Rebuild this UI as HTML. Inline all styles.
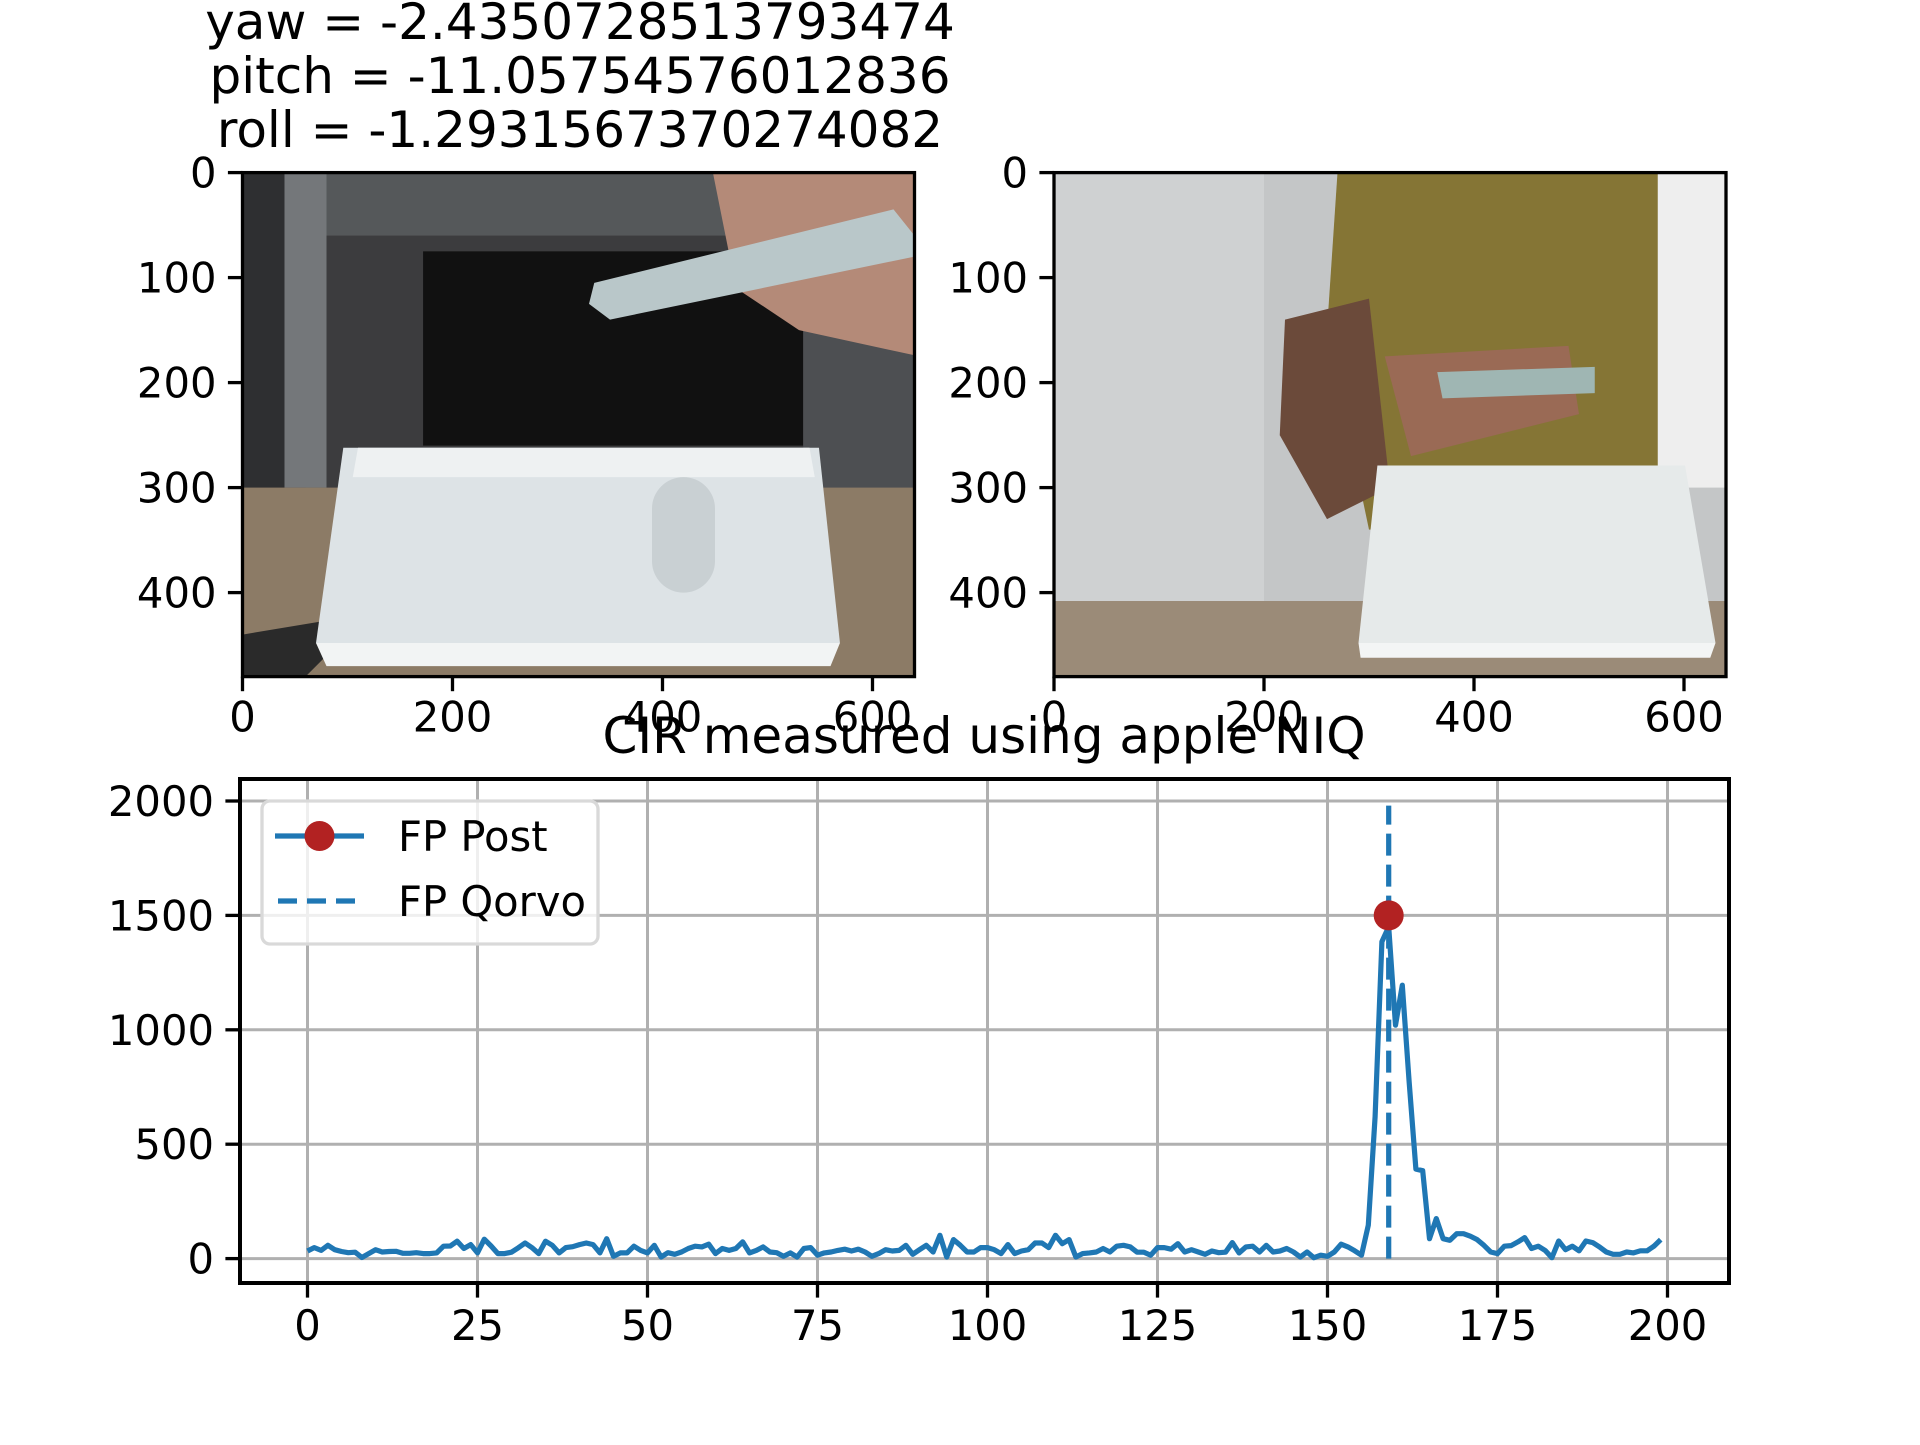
<!DOCTYPE html>
<html><head><meta charset="utf-8"><style>
html,body{margin:0;padding:0;background:#fff}
svg text{font-family:"DejaVu Sans","Liberation Sans",sans-serif;fill:#000}
</style></head><body>
<svg id="fig" xmlns="http://www.w3.org/2000/svg" width="1920" height="1440" viewBox="0 0 1920 1440">
<rect width="1920" height="1440" fill="#fff"/>
<g font-size="50" text-anchor="middle">
<text x="580" y="39">yaw = -2.4350728513793474</text>
<text x="580" y="93">pitch = -11.05754576012836</text>
<text x="580" y="147">roll = -1.2931567370274082</text>
</g>

<g>
<svg x="242.5" y="172.6" width="672" height="504" viewBox="0 0 640 480" preserveAspectRatio="none">
<rect width="640" height="480" fill="#3c3c3e"/>
<rect width="640" height="60" fill="#55585a"/>
<rect x="0" y="0" width="60" height="480" fill="#2e2f31"/>
<rect x="40" y="0" width="40" height="300" fill="#74777a"/>
<rect x="172" y="75" width="362" height="185" fill="#111111"/>
<rect x="534" y="120" width="106" height="200" fill="#4d4f52"/>
<rect x="0" y="300" width="640" height="180" fill="#8c7b66"/>
<polygon points="0,440 120,420 60,480 0,480" fill="#2a2a2a"/>
<polygon points="96,262 549,262 569,448 70,448" fill="#dde3e6"/>
<polygon points="110,262 540,262 545,290 105,290" fill="#eef1f2"/>
<rect x="390" y="290" width="60" height="110" rx="30" fill="#c9d0d3"/>
<polygon points="70,448 569,448 560,470 80,470" fill="#f2f4f4"/>
<polygon points="448,0 640,0 640,174 530,150 470,110" fill="#b48a78"/>
<polygon points="335,105 620,35 640,60 640,80 350,140 330,125" fill="#b9c7c9"/>
</svg>
<rect x="242.5" y="172.6" width="672" height="504" fill="none" stroke="#000" stroke-width="3.3"/>
</g>

<g>
<svg x="1054" y="172.6" width="672" height="504" viewBox="0 0 640 480" preserveAspectRatio="none">
<rect width="640" height="480" fill="#c4c6c7"/>
<rect x="0" y="0" width="200" height="480" fill="#cfd1d2"/>
<polygon points="270,0 580,0 600,330 300,340 260,150" fill="#857535"/>
<rect x="575" y="0" width="65" height="300" fill="#eeeeee"/>
<polygon points="220,140 300,120 320,300 260,330 215,250" fill="#6b4a3a"/>
<polygon points="315,175 490,165 500,230 340,270" fill="#9a6a55"/>
<polygon points="365,190 515,185 515,210 370,215" fill="#9fb6b3"/>
<rect x="0" y="408" width="640" height="72" fill="#9b8b78"/>
<polygon points="308,279 601,279 630,448 290,448" fill="#e6eaea"/>
<polygon points="290,448 630,448 625,462 292,462" fill="#f3f5f5"/>
</svg>
<rect x="1054" y="172.6" width="672" height="504" fill="none" stroke="#000" stroke-width="3.3"/>
</g>

<g id="imgaxes" font-size="41.7"></g>

<text x="984" y="753" font-size="50" text-anchor="middle">CIR measured using apple NIQ</text>
<g id="chart"></g>
</svg>
<script>
const NS="http://www.w3.org/2000/svg";
const xTicks=[0,25,50,75,100,125,150,175,200];
const yTicks=[0,500,1000,1500,2000];
const cirValues=[33,48,36,58,39,31,26,28,5,22,39,29,31,32,23,23,26,22,22,25,54,55,76,44,61,25,85,55,22,22,28,47,68,48,22,76,58,25,48,52,61,68,61,25,87,10,25,25,54,36,
25,58,7,26,19,29,44,54,51,63,22,44,36,44,73,25,36,51,29,26,10,25,7,44,48,15,25,29,36,41,33,41,29,10,22,39,33,36,58,19,39,58,29,102,7,83,58,29,29,48,
48,39,22,61,22,33,39,68,68,48,102,65,83,7,22,25,29,44,29,54,58,51,28,28,15,48,48,41,65,29,39,29,19,33,26,28,70,25,51,54,29,58,29,33,44,29,7,29,4,15,
10,29,63,51,34,15,146,620,1385,1450,1020,1195,775,391,384,87,175,87,80,109,109,98,83,58,29,22,54,57,73,92,44,54,36,4,77,39,54,34,77,70,51,29,19,19,29,25,34,34,54,83];
const fpPostX=[159];
const fpPostY=[1500];
const fpQorvoX=[159];
const fpQorvoTop=[1980];
const imgXTicks=[0,200,400,600];
const imgYTicks=[0,100,200,300,400];

const AX={l:240,r:1729,t:779,b:1283};
function X(v){return 307.5+v*6.8;}
function Y(v){return 1258.6-v*0.2288;}
function mk(tag,attrs,parent){const e=document.createElementNS(NS,tag);for(const k in attrs)e.setAttribute(k,attrs[k]);parent.appendChild(e);return e;}

const chart=document.getElementById('chart');
xTicks.forEach(t=>{const g=mk('line',{x1:X(t),x2:X(t),y1:AX.t,y2:AX.b,stroke:'#b0b0b0','stroke-width':3},chart);

});
yTicks.forEach(t=>{const g=mk('line',{x1:AX.l,x2:AX.r,y1:Y(t),y2:Y(t),stroke:'#b0b0b0','stroke-width':3},chart);

});
const defs=mk('defs',{},chart);const cp=mk('clipPath',{id:'clip'},defs);mk('rect',{x:AX.l,y:AX.t,width:AX.r-AX.l,height:AX.b-AX.t},cp);
const plot=mk('g',{'clip-path':'url(#clip)'},chart);
const pts=cirValues.map((v,i)=>X(i).toFixed(1)+','+Y(v).toFixed(1)).join(' ');
const line=mk('polyline',{points:pts,fill:'none',stroke:'#1f77b4','stroke-width':5.2,'stroke-linejoin':'round'},plot);


fpQorvoX.forEach((x,i)=>{const d=mk('line',{x1:X(x),x2:X(x),y1:Y(0),y2:Y(fpQorvoTop[i]),stroke:'#1f77b4','stroke-width':5.2,'stroke-dasharray':'22,9'},plot);

});
fpPostX.forEach((x,i)=>{const c=mk('circle',{cx:X(x),cy:Y(fpPostY[i]),r:15,fill:'#b22222'},plot);

});
const sp=mk('rect',{x:AX.l,y:AX.t,width:AX.r-AX.l,height:AX.b-AX.t,fill:'none',stroke:'#000','stroke-width':4},chart);


xTicks.forEach(t=>{mk('line',{x1:X(t),x2:X(t),y1:AX.b,y2:AX.b+14.6,stroke:'#000','stroke-width':3.3},chart);
const tx=mk('text',{x:X(t),y:AX.b+57,'font-size':41.7,'text-anchor':'middle'},chart);tx.textContent=t;

});
yTicks.forEach(t=>{mk('line',{x1:AX.l-14.6,x2:AX.l,y1:Y(t),y2:Y(t),stroke:'#000','stroke-width':3.3},chart);
const tx=mk('text',{x:AX.l-26,y:Y(t)+15,'font-size':41.7,'text-anchor':'end'},chart);tx.textContent=t;

});
const lg=mk('g',{},chart);


mk('rect',{x:262,y:801,width:336,height:143,rx:8,fill:'#fff','fill-opacity':0.8,stroke:'#d9d9d9','stroke-width':3.3},lg);
mk('line',{x1:275,x2:364,y1:836,y2:836,stroke:'#1f77b4','stroke-width':5.2},lg);
mk('circle',{cx:319.5,cy:836,r:15,fill:'#b22222'},lg);
const l1=mk('text',{x:398,y:851,'font-size':41.7},lg);l1.textContent='FP Post';


mk('line',{x1:278,x2:364,y1:901,y2:901,stroke:'#1f77b4','stroke-width':5.2,'stroke-dasharray':'19,10'},lg);
const l2=mk('text',{x:398,y:916,'font-size':41.7},lg);l2.textContent='FP Qorvo';



const ia=document.getElementById('imgaxes');
[242.5,1054].forEach(x0=>{
 const y0=172.6,s=1.05,b=676.6;
 imgXTicks.forEach(t=>{const x=x0+t*s;mk('line',{x1:x,x2:x,y1:b,y2:b+14.6,stroke:'#000','stroke-width':3.3},ia);
 const tx=mk('text',{x:x,y:b+55,'text-anchor':'middle'},ia);tx.textContent=t;
 
 });
 imgYTicks.forEach(t=>{const y=y0+t*s;mk('line',{x1:x0-14.6,x2:x0,y1:y,y2:y,stroke:'#000','stroke-width':3.3},ia);
 const tx=mk('text',{x:x0-26,y:y+15,'text-anchor':'end'},ia);tx.textContent=t;
 
 });
});
</script>
</body></html>
